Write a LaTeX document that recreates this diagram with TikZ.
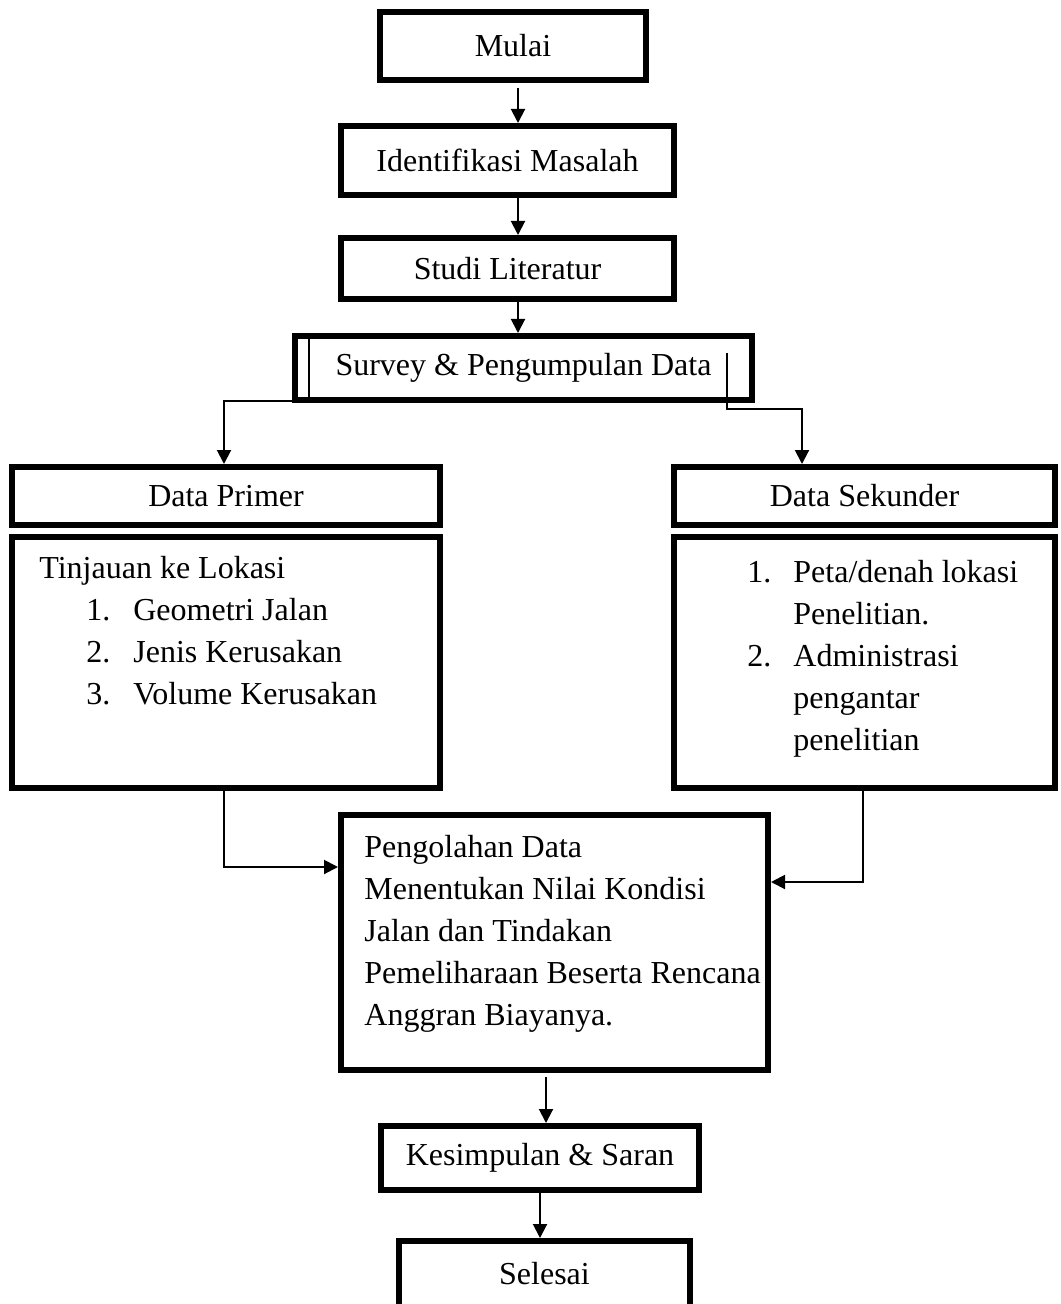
\documentclass[tikz,border=0pt]{standalone}
\usepackage{fontspec}
\setmainfont{Liberation Serif}
\usetikzlibrary{arrows.meta}
\begin{document}
\begin{tikzpicture}[x=0.5pt,y=-0.5pt,
  box/.style={draw, line width=3.2pt, inner sep=0pt, font=\fontsize{16}{21}\selectfont},
  conn/.style={line width=1pt},
  arr/.style={conn,-{Triangle[width=7pt,length=7pt]}},
  txt/.style={inner sep=0pt, font=\fontsize{16}{21}\selectfont, align=left, anchor=base west}
]
\useasboundingbox (0,0) rectangle (1060,1304);
% boxes
\node[box, minimum width=132.8pt, minimum height=33.8pt] (mulai) at (513,46) {Mulai};
\node[box, minimum width=166.3pt, minimum height=34.3pt] (ident) at (507.5,160.5) {Identifikasi Masalah};
\node[box, minimum width=166.3pt, minimum height=30.3pt] (studi) at (507.5,268.5) {Studi Literatur};
\node[box, minimum width=228.3pt, minimum height=31.8pt] (survey) at (523.5,368) {Survey \& Pengumpulan Data};
\node[box, minimum width=213.8pt, minimum height=28.8pt] (dprim) at (226,496) {Data Primer};
\node[box, minimum width=213.8pt, minimum height=125.3pt] (tinj) at (226,662.5) {};
\node[box, minimum width=190.3pt, minimum height=28.8pt] (dsek) at (864.5,496) {Data Sekunder};
\node[box, minimum width=190.3pt, minimum height=125.3pt] (seklist) at (864.5,662.5) {};
\node[box, minimum width=213.3pt, minimum height=127.3pt] (pengo) at (554.5,942.5) {};
\node[box, minimum width=158.8pt, minimum height=31.8pt] (kesim) at (540,1158) {Kesimpulan \& Saran};
\node[box, minimum width=145.3pt, minimum height=32.8pt] (selesai) at (544.5,1274) {Selesai};
% texts
\node[txt] (tinjhead) at (39,578) {Tinjauan ke Lokasi};
\node[txt] (tinjlist) at (86,620) {\begin{tabular}[t]{@{}l@{}}\makebox[23.5pt][l]{1.}Geometri Jalan\\ \makebox[23.5pt][l]{2.}Jenis Kerusakan\\ \makebox[23.5pt][l]{3.}Volume Kerusakan\end{tabular}};
\node[txt] (seklisttext) at (747,582) {\begin{tabular}[t]{@{}l@{}}\makebox[23pt][l]{1.}Peta/denah lokasi\\ \hspace*{23pt}Penelitian.\\ \makebox[23pt][l]{2.}Administrasi\\ \hspace*{23pt}pengantar\\ \hspace*{23pt}penelitian\end{tabular}};
\node[txt] (pengotext) at (364,857) {\begin{tabular}[t]{@{}l@{}}Pengolahan Data\\ Menentukan Nilai Kondisi\\ Jalan dan Tindakan\\ Pemeliharaan Beserta Rencana\\ Anggran Biayanya.\end{tabular}};
% coordinates
\coordinate (x518) at (518,0);
\coordinate (x309) at (309,0);
\coordinate (cL) at (224,401);
\coordinate (cR1) at (727,353);
\coordinate (cR2) at (802,409);
\coordinate (cT) at (224,867);
\coordinate (cS) at (863,882);
\coordinate (x546) at (546,0);
\coordinate (x540) at (540,0);
% connectors
\draw[arr, shorten <=2.5pt] (mulai.south -| x518) -- (ident.north -| x518);
\draw[arr] (ident.south -| x518) -- (studi.north -| x518);
\draw[arr] (studi.south -| x518) -- (survey.north -| x518);
\draw[conn] (survey.north -| x309) -- (survey.south -| x309);
\draw[arr] (survey.west |- cL) -| (dprim.north -| cL);
\draw[arr] (cR1) |- (cR2) -- (dsek.north -| cR2);
\draw[arr] (tinj.south -| cT) |- (pengo.west |- cT);
\draw[arr] (seklist.south -| cS) |- (pengo.east |- cS);
\draw[arr, shorten <=2pt] (pengo.south -| x546) -- (kesim.north -| x546);
\draw[arr] (kesim.south -| x540) -- (selesai.north -| x540);
\end{tikzpicture}
\end{document}
